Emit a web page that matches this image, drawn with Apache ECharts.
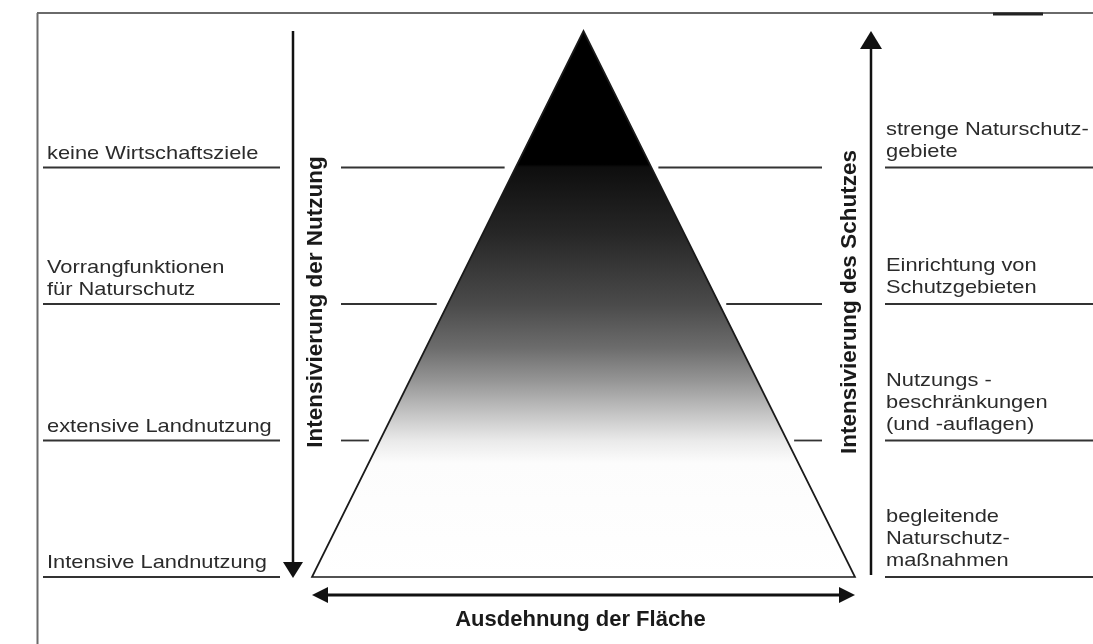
<!DOCTYPE html>
<html>
<head>
<meta charset="utf-8">
<script src="https://cdn.jsdelivr.net/npm/echarts@6.0.0/dist/echarts.min.js"></script>
<style>
html, body { margin: 0; padding: 0; background: #fff; }
#main { width: 1093px; height: 644px; }
</style>
</head>
<body>
<div id="main"></div>
<script>
/**
 * Pyramide: Nutzung / Schutz
 */

// Stufen der Pyramide (0 = Basis)
var levels = [0, 1, 2, 3];
// Spitze und Basis der Pyramide (x = Ausdehnung, y = Stufe)
var apex = [0, 4];
var base = [-1, 1];
// Beschriftungen links / rechts, je Stufe von unten nach oben
var leftLabels = [
	'Intensive Landnutzung',
	'extensive Landnutzung',
	'Vorrangfunktionen\nfür Naturschutz',
	'keine Wirtschaftsziele'
];
var rightLabels = [
	'begleitende\nNaturschutz-\nmaßnahmen',
	'Nutzungs -\nbeschränkungen\n(und -auflagen)',
	'Einrichtung von\nSchutzgebieten',
	'strenge Naturschutz-\ngebiete'
];
var titleLeft = 'Intensivierung der Nutzung';
var titleRight = 'Intensivierung des Schutzes';
var titleBottom = 'Ausdehnung der Fläche';

var FONT = '"Liberation Sans", Arial, Helvetica, sans-serif';
var LINE = '#333333';

function hline(x1, x2, y, w) {
	return {
		type : 'line',
		shape : { x1 : x1, y1 : y, x2 : x2, y2 : y },
		style : { stroke : LINE, lineWidth : w || 1.8 }
	};
}
function vline(x, y1, y2, w, c) {
	return {
		type : 'line',
		shape : { x1 : x, y1 : y1, x2 : x, y2 : y2 },
		style : { stroke : c || '#111', lineWidth : w || 2.5 }
	};
}
function head(pts) {
	return {
		type : 'polygon',
		shape : { points : pts },
		style : { fill : '#111' }
	};
}
function label(x, y, txt) {
	return {
		type : 'text',
		x : x,
		y : y,
		scaleX : 1.15,
		style : {
			text : txt,
			fill : '#2b2b2b',
			fontSize : 19,
			fontFamily : FONT,
			lineHeight : 22,
			align : 'left',
			verticalAlign : 'bottom'
		}
	};
}
function title(x, y, txt, rot, size) {
	return {
		type : 'text',
		x : x,
		y : y,
		rotation : rot || 0,
		style : {
			text : txt,
			fill : '#1a1a1a',
			fontSize : size || 22,
			fontWeight : 'bold',
			fontFamily : FONT,
			align : 'center',
			verticalAlign : 'middle'
		}
	};
}

// je Stufe: Linien links und rechts, Texte
function renderLevel(params, api) {
	var lv = api.value(0);
	var idx = params.dataIndex;
	var y = api.coord([0, lv])[1];
	var k = (apex[1] - lv) / apex[1];
	var edgeL = api.coord([base[0] * k, lv])[0];
	var edgeR = api.coord([base[1] * k, lv])[0];
	var ch = [];
	ch.push(hline(43, 280, y));
	ch.push(hline(885, 1093, y));
	if (lv > 0) {
		ch.push(hline(341, edgeL - 11, y));
		ch.push(hline(edgeR + 7, 822, y));
	}
	ch.push(label(47, y - 3, leftLabels[idx]));
	ch.push(label(886, y - 5, rightLabels[idx]));
	return { type : 'group', children : ch };
}

// Pyramide, Pfeile, Rahmen, Achsentitel
function renderPyramid(params, api) {
	var top = api.coord(apex);
	var bl = api.coord([base[0], 0]);
	var br = api.coord([base[1], 0]);
	var ch = [];
	// Rahmen (Scan)
	ch.push({ type : 'line', shape : { x1 : 37, y1 : 13, x2 : 1093, y2 : 13 }, style : { stroke : '#6a6a6a', lineWidth : 2 } });
	ch.push({ type : 'line', shape : { x1 : 993, y1 : 14, x2 : 1043, y2 : 14 }, style : { stroke : '#222', lineWidth : 3 } });
	ch.push({ type : 'line', shape : { x1 : 37.5, y1 : 13, x2 : 37.5, y2 : 644 }, style : { stroke : '#6a6a6a', lineWidth : 2 } });
	// Pyramide mit Verlauf
	ch.push({
		type : 'polygon',
		shape : { points : [bl, top, br] },
		style : {
			fill : new echarts.graphic.LinearGradient(0, 0, 0, 1, [
				{ offset : 0, color : '#000' },
				{ offset : 0.245, color : '#000' },
				{ offset : 0.25, color : '#0e0e0e' },
				{ offset : 0.37, color : '#262626' },
				{ offset : 0.5, color : '#4a4a4a' },
				{ offset : 0.58, color : '#6c6c6c' },
				{ offset : 0.64, color : '#959595' },
				{ offset : 0.7, color : '#c4c4c4' },
				{ offset : 0.75, color : '#eaeaea' },
				{ offset : 0.79, color : '#fcfcfc' },
				{ offset : 1, color : '#fff' }
			]),
			stroke : '#1a1a1a',
			lineWidth : 1.7
		}
	});
	// linker Pfeil (nach unten)
	var xl = bl[0] - 19;
	ch.push(vline(xl, top[1], bl[1] - 14));
	ch.push(head([[xl - 10, bl[1] - 15], [xl + 10, bl[1] - 15], [xl, bl[1] + 1]]));
	// rechter Pfeil (nach oben)
	var xr = br[0] + 16;
	ch.push(vline(xr, bl[1] - 2, top[1] + 14));
	ch.push(head([[xr - 11, top[1] + 18], [xr + 11, top[1] + 18], [xr, top[1]]]));
	// Doppelpfeil unten
	var yb = bl[1] + 18;
	ch.push({ type : 'line', shape : { x1 : bl[0] + 12, y1 : yb, x2 : br[0] - 12, y2 : yb }, style : { stroke : '#111', lineWidth : 2.8 } });
	ch.push(head([[bl[0], yb], [bl[0] + 16, yb - 8], [bl[0] + 16, yb + 8]]));
	ch.push(head([[br[0], yb], [br[0] - 16, yb - 8], [br[0] - 16, yb + 8]]));
	// Titel
	ch.push(title(xl + 23, 302, titleLeft, Math.PI / 2, 22.5));
	ch.push(title(xr - 21, 302, titleRight, Math.PI / 2, 22.5));
	ch.push(title(top[0] - 3, bl[1] + 43, titleBottom, 0, 22));
	return { type : 'group', children : ch };
}

var myChart = echarts.init(document.getElementById('main'));
var option = {
	backgroundColor : '#ffffff',
	animation : false,
	grid : { left : 312, right : 238, top : 31, bottom : 67 },
	xAxis : { type : 'value', min : base[0], max : base[1], show : false },
	yAxis : { type : 'value', min : 0, max : apex[1], show : false },
	series : [{
		type : 'custom',
		clip : false,
		silent : true,
		data : [apex],
		renderItem : renderPyramid
	}, {
		type : 'custom',
		clip : false,
		silent : true,
		data : levels.map(function(l) { return [l]; }),
		encode : { y : 0 },
		renderItem : renderLevel
	}]
};
myChart.setOption(option);
</script>
</body>
</html>
